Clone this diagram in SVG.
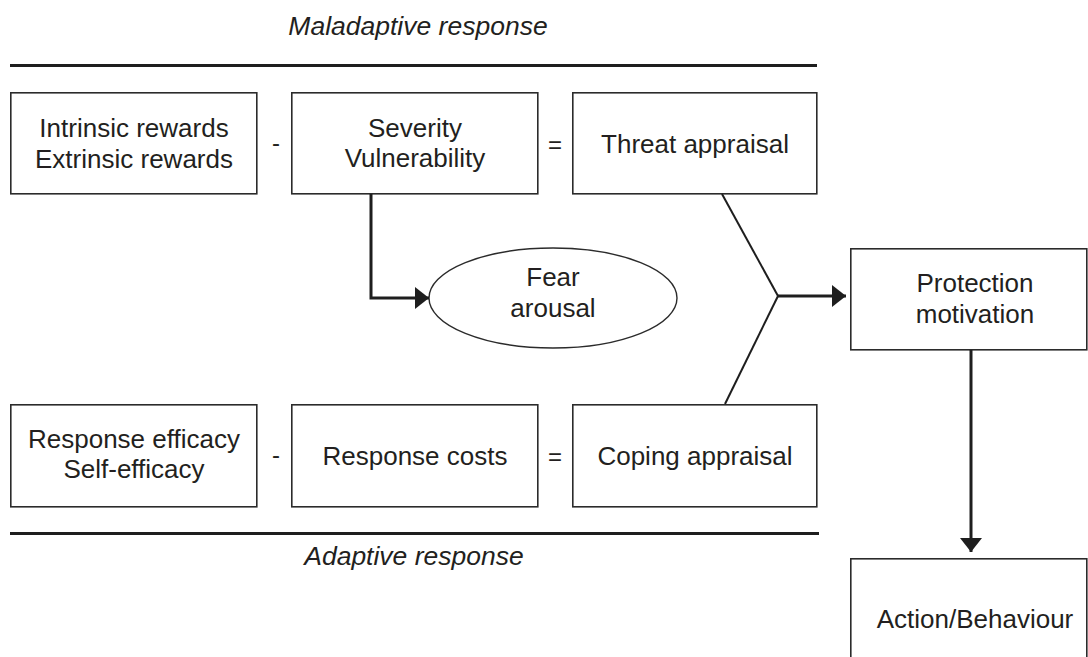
<svg xmlns="http://www.w3.org/2000/svg" width="1088" height="657" viewBox="0 0 1088 657">
  <style>
    .box { fill: #ffffff; stroke: #2b2b2b; stroke-width: 1.6; }
    .lbl { font-family: "Liberation Sans", Arial, sans-serif; font-size: 26px; fill: #231f20; text-anchor: middle; }
    .ttl { font-family: "Liberation Sans", Arial, sans-serif; font-size: 26.5px; font-style: italic; fill: #231f20; text-anchor: middle; }
    .op { font-family: "Liberation Sans", Arial, sans-serif; font-size: 24px; fill: #231f20; text-anchor: middle; }
    .rule { stroke: #1e1e1e; stroke-width: 3.2; fill: none; }
    .conn { stroke: #1e1e1e; stroke-width: 3; fill: none; }
    .diag { stroke: #1e1e1e; stroke-width: 2; fill: none; }
  </style>
  <defs>
    <marker id="head" markerUnits="userSpaceOnUse" markerWidth="15" markerHeight="24" refX="14" refY="12" orient="auto">
      <path d="M0,1 L14,12 L0,23 z" fill="#1e1e1e"/>
    </marker>
  </defs>

  <rect width="1088" height="657" fill="#ffffff"/>

  <!-- response bands -->
  <g id="bands">
    <text class="ttl" x="418" y="35">Maladaptive response</text>
    <line class="rule" x1="10" y1="65.5" x2="817" y2="65.5"/>
    <line class="rule" x1="10" y1="533.5" x2="819" y2="533.5"/>
    <text class="ttl" x="414" y="565">Adaptive response</text>
  </g>

  <!-- operators between the boxes -->
  <g id="operators">
    <text class="op" x="276" y="151">-</text>
    <text class="op" x="555" y="153">=</text>
    <text class="op" x="276" y="463">-</text>
    <text class="op" x="555" y="465">=</text>
  </g>

  <g id="rewards">
    <rect class="box" x="10.8" y="92.8" width="246" height="101"/>
    <text class="lbl" x="134" y="137">Intrinsic rewards</text>
    <text class="lbl" x="134" y="168">Extrinsic rewards</text>
  </g>

  <g id="severity">
    <rect class="box" x="291.8" y="92.8" width="246" height="101"/>
    <text class="lbl" x="415" y="137">Severity</text>
    <text class="lbl" x="415" y="167">Vulnerability</text>
  </g>

  <g id="threat">
    <rect class="box" x="572.8" y="92.8" width="244" height="101"/>
    <text class="lbl" x="695" y="153">Threat appraisal</text>
  </g>

  <g id="fear">
    <ellipse cx="553" cy="298" rx="124" ry="50" fill="#ffffff" stroke="#2b2b2b" stroke-width="1.4"/>
    <text class="lbl" x="553" y="286">Fear</text>
    <text class="lbl" x="553" y="317">arousal</text>
  </g>

  <g id="efficacy">
    <rect class="box" x="10.8" y="404.8" width="246" height="102"/>
    <text class="lbl" x="134" y="448">Response efficacy</text>
    <text class="lbl" x="134" y="478">Self-efficacy</text>
  </g>

  <g id="costs">
    <rect class="box" x="291.8" y="404.8" width="246" height="102"/>
    <text class="lbl" x="415" y="465">Response costs</text>
  </g>

  <g id="coping">
    <rect class="box" x="572.8" y="404.8" width="244" height="102"/>
    <text class="lbl" x="695" y="465">Coping appraisal</text>
  </g>

  <g id="protection">
    <rect class="box" x="850.8" y="248.8" width="236" height="101"/>
    <text class="lbl" x="975" y="292">Protection</text>
    <text class="lbl" x="975" y="323">motivation</text>
  </g>

  <g id="action">
    <rect class="box" x="850.8" y="558.8" width="236" height="130"/>
    <text class="lbl" x="975" y="628">Action/Behaviour</text>
  </g>

  <!-- connectors -->
  <g id="connectors">
    <polyline class="conn" points="371,194 371,298 429,298" marker-end="url(#head)"/>
    <line class="diag" x1="722" y1="194" x2="778" y2="296"/>
    <line class="diag" x1="725" y1="404" x2="778" y2="296"/>
    <line class="conn" x1="777" y1="296" x2="846" y2="296" marker-end="url(#head)"/>
    <line class="conn" x1="971" y1="350" x2="971" y2="552" marker-end="url(#head)"/>
  </g>
</svg>
